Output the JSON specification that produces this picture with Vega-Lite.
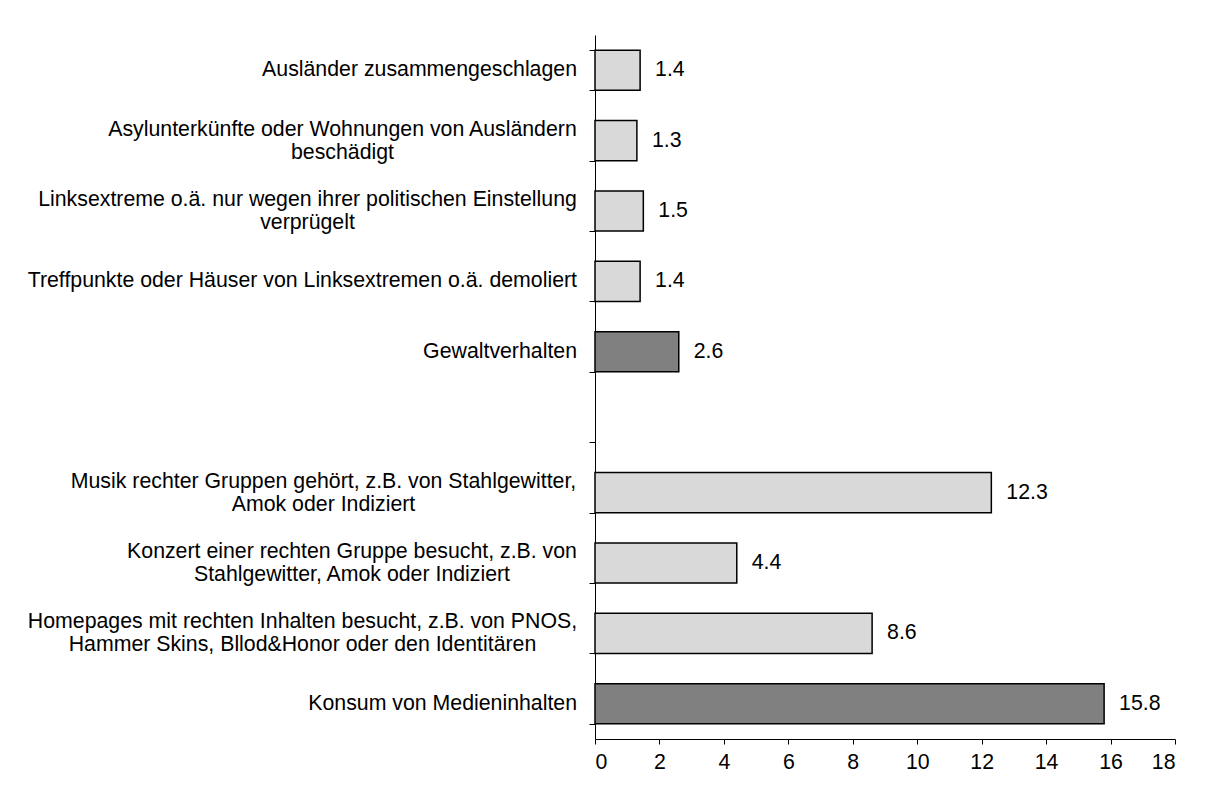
{
  "$schema": "https://vega.github.io/schema/vega-lite/v6.json",
  "width": 580,
  "height": 704,
  "autosize": {"type": "none"},
  "padding": {"left": 595, "top": 35, "right": 37, "bottom": 49},
  "background": "white",
  "config": {
    "view": {"stroke": null},
    "font": "Liberation Sans",
    "axis": {"labelFont": "Liberation Sans", "labelColor": "black", "labelFontSize": 21.3, "domainColor": "black", "tickColor": "black", "grid": false}
  },
  "data": {
    "values": [
      {"cat": "Ausländer zusammengeschlagen", "value": 1.4, "kind": "item"},
      {"cat": "Asylunterkünfte oder Wohnungen von Ausländern|beschädigt", "value": 1.3, "kind": "item"},
      {"cat": "Linksextreme o.ä. nur wegen ihrer politischen Einstellung|verprügelt", "value": 1.5, "kind": "item"},
      {"cat": "Treffpunkte oder Häuser von Linksextremen o.ä. demoliert", "value": 1.4, "kind": "item"},
      {"cat": "Gewaltverhalten", "value": 2.6, "kind": "total"},
      {"cat": "Musik rechter Gruppen gehört, z.B. von Stahlgewitter,|Amok oder Indiziert", "value": 12.3, "kind": "item"},
      {"cat": "Konzert einer rechten Gruppe besucht, z.B. von|Stahlgewitter, Amok oder Indiziert", "value": 4.4, "kind": "item"},
      {"cat": "Homepages mit rechten Inhalten besucht, z.B. von PNOS,|Hammer Skins, Bllod&Honor oder den Identitären", "value": 8.6, "kind": "item"},
      {"cat": "Konsum von Medieninhalten", "value": 15.8, "kind": "total"}
    ]
  },
  "encoding": {
    "y": {
      "field": "cat",
      "type": "nominal",
      "title": null,
      "scale": {
        "domain": [
          "Ausländer zusammengeschlagen",
          "Asylunterkünfte oder Wohnungen von Ausländern|beschädigt",
          "Linksextreme o.ä. nur wegen ihrer politischen Einstellung|verprügelt",
          "Treffpunkte oder Häuser von Linksextremen o.ä. demoliert",
          "Gewaltverhalten",
          " ",
          "Musik rechter Gruppen gehört, z.B. von Stahlgewitter,|Amok oder Indiziert",
          "Konzert einer rechten Gruppe besucht, z.B. von|Stahlgewitter, Amok oder Indiziert",
          "Homepages mit rechten Inhalten besucht, z.B. von PNOS,|Hammer Skins, Bllod&Honor oder den Identitären",
          "Konsum von Medieninhalten"
        ],
        "paddingInner": 0.43,
        "paddingOuter": 0.215
      },
      "axis": {
        "labels": false,
        "tickBand": "extent",
        "tickSize": 6,
        "domainWidth": 1,
        "tickWidth": 1
      }
    }
  },
  "layer": [
    {
      "mark": {"type": "bar", "stroke": "black", "strokeWidth": 1.5},
      "encoding": {
        "x": {
          "field": "value",
          "type": "quantitative",
          "title": null,
          "scale": {"domain": [0, 18], "nice": false},
          "axis": {"values": [0, 2, 4, 6, 8, 10, 12, 14, 16, 18], "tickSize": 5, "labelPadding": 7, "domainWidth": 1, "tickWidth": 1}
        },
        "color": {
          "field": "kind",
          "type": "nominal",
          "scale": {"domain": ["item", "total"], "range": ["#d9d9d9", "#808080"]},
          "legend": null
        }
      }
    },
    {
      "mark": {"type": "text", "align": "left", "baseline": "middle", "dx": 15, "fontSize": 21.3, "font": "Liberation Sans", "color": "black"},
      "encoding": {
        "x": {"field": "value", "type": "quantitative"},
        "text": {"field": "value", "type": "quantitative", "format": ".1f"}
      }
    },
    {
      "mark": {
        "type": "text",
        "baseline": "middle",
        "fontSize": 21.3,
        "font": "Liberation Sans",
        "color": "black",
        "lineHeight": 23,
        "text": {"expr": "split(datum.cat, '|')"},
        "align": {"expr": "indexof(datum.cat, '|') >= 0 ? 'center' : 'right'"},
        "dy": {"expr": "indexof(datum.cat, '|') >= 0 ? -11 : 0"},
        "dx": {"expr": "-18 - (indexof(datum.cat, 'Asylunterk') == 0 ? 234.5 : indexof(datum.cat, 'Linksextreme') == 0 ? 269.5 : indexof(datum.cat, 'Musik') == 0 ? 253.5 : indexof(datum.cat, 'Konzert') == 0 ? 225 : indexof(datum.cat, 'Homepages') == 0 ? 274.5 : 0)"}
      },
      "encoding": {
        "x": {"datum": 0, "type": "quantitative"}
      }
    }
  ]
}
